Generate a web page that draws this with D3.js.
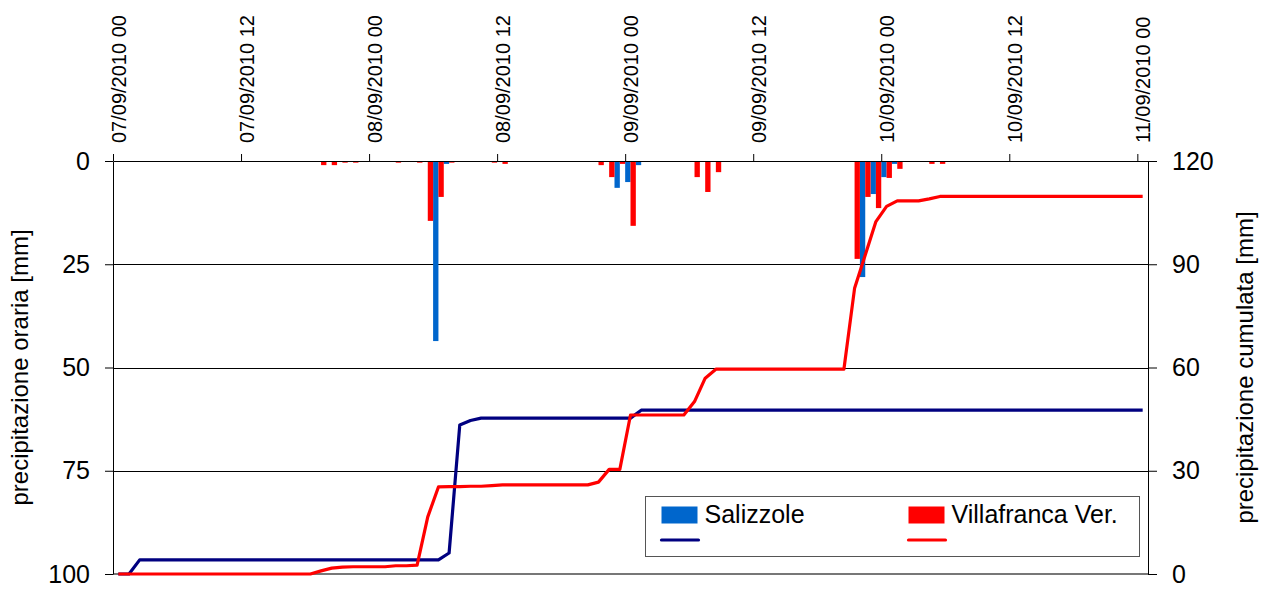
<!DOCTYPE html>
<html>
<head>
<meta charset="utf-8">
<script src="https://cdn.jsdelivr.net/npm/d3@7"></script>
<style>
  body { margin: 0; background: #fff; }
  text { font-family: "Liberation Sans", Arial, sans-serif; fill: #000; }
  .axis path, .axis line { stroke: #000; }
</style>
</head>
<body>
<div id="d3"></div>
<script>
// hourly categories, 07/09/2010 00 -> 11/09/2010 00 (97 hours)
var hours = d3.range(97);
var tickLabels = ["07/09/2010 00", "07/09/2010 12", "08/09/2010 00", "08/09/2010 12",
                  "09/09/2010 00", "09/09/2010 12", "10/09/2010 00", "10/09/2010 12", "11/09/2010 00"];
var seriesNames = ["Salizzole", "Villafranca Ver."];

// hourly rain [mm]
var salizzoleHourly = [
  0,0,0,0,0,0,0,0,0,0,
  0,0,0,0,0,0,0,0,0,0,
  0,0,0,0,0,0,0,0,0,0,
  43.6,0.7,0,0,0,0,0,0,0,0,
  0,0,0,0,0,0,0,6.5,5.1,1.0,
  0,0,0,0,0,0,0,0,0,0,
  0,0,0,0,0,0,0,0,0,0,
  28.1,8.0,3.9,0.7,0,0,0,0,0,0,
  0,0,0,0,0,0,0,0,0,0,
  0,0,0,0,0,0,0
];
var villafrancaHourly = [
  0,0,0,0,0,0,0,0,0,0,
  0,0,0,0,0,0,0,0,0,1.0,
  1.0,0.4,0.4,0,0,0,0.4,0,0.4,14.5,
  8.7,0.4,0,0,0,0.4,0.7,0,0,0,
  0,0,0,0,0,1.0,3.9,0.7,15.7,0,
  0,0,0,0,3.9,7.5,2.7,0,0,0,
  0,0,0,0,0,0,0,0,0,23.7,
  8.7,11.4,4.1,1.9,0,0,0.7,0.7,0,0,
  0,0,0,0,0,0,0,0,0,0,
  0,0,0,0,0,0,0
];

// cumulated rain [mm]
var salizzoleCum = [
  0,0,4.1,4.1,4.1,4.1,4.1,4.1,4.1,4.1,
  4.1,4.1,4.1,4.1,4.1,4.1,4.1,4.1,4.1,4.1,
  4.1,4.1,4.1,4.1,4.1,4.1,4.1,4.1,4.1,4.1,
  4.1,6.1,43.3,44.6,45.3,45.3,45.3,45.3,45.3,45.3,
  45.3,45.3,45.3,45.3,45.3,45.3,45.3,45.3,45.3,47.6,
  47.6,47.6,47.6,47.6,47.6,47.6,47.6,47.6,47.6,47.6,
  47.6,47.6,47.6,47.6,47.6,47.6,47.6,47.6,47.6,47.6,
  47.6,47.6,47.6,47.6,47.6,47.6,47.6,47.6,47.6,47.6,
  47.6,47.6,47.6,47.6,47.6,47.6,47.6,47.6,47.6,47.6,
  47.6,47.6,47.6,47.6,47.6,47.6,47.6
];
var villafrancaCum = [
  0,0,0,0,0,0,0,0,0,0,
  0,0,0,0,0,0,0,0,0,0.9,
  1.7,2.0,2.1,2.1,2.1,2.1,2.4,2.4,2.6,16.6,
  25.3,25.4,25.4,25.5,25.5,25.7,25.9,25.9,25.9,25.9,
  25.9,25.9,25.9,25.9,25.9,26.7,30.4,30.4,46.2,46.2,
  46.2,46.2,46.2,46.2,50.1,56.9,59.5,59.5,59.5,59.5,
  59.5,59.5,59.5,59.5,59.5,59.5,59.5,59.5,59.5,83.0,
  92.7,102.4,106.8,108.4,108.4,108.4,109.0,109.7,109.7,109.7,
  109.7,109.7,109.7,109.7,109.7,109.7,109.7,109.7,109.7,109.7,
  109.7,109.7,109.7,109.7,109.7,109.7,109.7
];

var barColors = ["#0066cc", "#ff0000"];
var lineColors = ["#000080", "#ff0000"];

// setup canvas
var svg_width = 1267;
var svg_height = 590;
var svg = d3.select("#d3").append("svg")
  .attr("width", svg_width)
  .attr("height", svg_height);
var margin = {top: 161, right: 119, bottom: 16, left: 113};
var chart_width = svg_width - margin.left - margin.right;
var chart_height = svg_height - margin.top - margin.bottom;

var chart_area = svg.append("g")
    .attr("transform", "translate(" + margin.left + "," + margin.top + ")");

// scales
var x = d3.scaleBand()
  .domain(hours)
  .range([0, chart_width]);
var xSub = d3.scaleBand()
  .domain([0, 1])
  .range([0, x.bandwidth()]);
var xHour = d3.scaleLinear()
  .domain([0, hours.length])
  .range([0, chart_width]);
var yLeft = d3.scaleLinear()
  .domain([0, 100])
  .range([0, chart_height]);
var yRight = d3.scaleLinear()
  .domain([0, 120])
  .range([chart_height, 0]);

// gridlines
chart_area.append("g").selectAll("line")
    .data([25, 50, 75])
    .enter().append("line")
    .attr("x1", 0)
    .attr("x2", chart_width)
    .attr("y1", function(d) { return Math.round(yLeft(d)) + 0.5; })
    .attr("y2", function(d) { return Math.round(yLeft(d)) + 0.5; })
    .attr("stroke", "#000");
chart_area.append("line")
    .attr("x1", 0)
    .attr("x2", chart_width)
    .attr("y1", yLeft(100))
    .attr("y2", yLeft(100))
    .attr("stroke", "#777")
    .attr("stroke-width", 2);

// bars (only hours with rain)
var barData = [salizzoleHourly, villafrancaHourly];
barData.forEach(function(values, s) {
  var rainy = values
    .map(function(v, i) { return {hour: hours[i], value: v}; })
    .filter(function(d) { return d.value > 0; });
  chart_area.append("g").selectAll("rect")
      .data(rainy)
      .enter().append("rect")
      .attr("x", function(d) { return x(d.hour) + xSub(s); })
      .attr("y", yLeft(0))
      .attr("width", xSub.bandwidth())
      .attr("height", function(d) { return yLeft(d.value) - yLeft(0); })
      .attr("fill", barColors[s]);
});

// cumulated lines
var line = d3.line()
  .x(function(d, i) { return x(hours[i]) + x.bandwidth() / 2; })
  .y(function(d) { return yRight(d); });
[salizzoleCum, villafrancaCum].forEach(function(values, s) {
  chart_area.append("path")
      .datum(values)
      .attr("fill", "none")
      .attr("stroke", lineColors[s])
      .attr("stroke-width", 3.2)
      .attr("stroke-linejoin", "round")
      .attr("d", line);
});

// top x-axis
var xAxis = chart_area.append("g")
    .attr("class", "axis axis--x")
    .call(d3.axisTop(xHour)
      .tickValues(d3.range(0, 97, 12))
      .tickSize(7)
      .tickSizeOuter(0)
      .tickFormat(function(d) { return tickLabels[d / 12]; }));
xAxis.selectAll("text")
    .attr("font-size", "20px")
    .attr("text-anchor", "start")
    .attr("x", 0)
    .attr("y", 0)
    .attr("dy", "0.35em")
    .attr("transform", "translate(" + (x.bandwidth() / 2) + ",-18) rotate(-90)");

// left y-axis
var yAxisL = chart_area.append("g")
    .attr("class", "axis axis--y")
    .call(d3.axisLeft(yLeft)
      .tickValues([0, 25, 50, 75, 100])
      .tickSize(8)
      .tickSizeOuter(0)
      .tickPadding(15));
yAxisL.selectAll("text").attr("font-size", "25px");

// right y-axis
var yAxisR = chart_area.append("g")
    .attr("class", "axis axis--y2")
    .attr("transform", "translate(" + chart_width + ",0)")
    .call(d3.axisRight(yRight)
      .tickValues([0, 30, 60, 90, 120])
      .tickSize(9)
      .tickSizeOuter(0)
      .tickPadding(15));
yAxisR.selectAll("text").attr("font-size", "25px");

// axis titles
svg.append("text")
    .attr("transform", "translate(28," + (margin.top + chart_height / 2) + ") rotate(-90)")
    .attr("text-anchor", "middle")
    .attr("font-size", "24px")
    .text("precipitazione oraria [mm]");
svg.append("text")
    .attr("transform", "translate(1253," + (margin.top + chart_height / 2) + ") rotate(-90)")
    .attr("text-anchor", "middle")
    .attr("font-size", "24px")
    .text("precipitazione cumulata [mm]");

// legend
var legend = svg.append("g")
    .attr("transform", "translate(645.5,496.5)");
legend.append("rect")
    .attr("width", 494)
    .attr("height", 60)
    .attr("fill", "#fff")
    .attr("stroke", "#555");
seriesNames.forEach(function(name, s) {
  var lx = 16 + s * 247;
  legend.append("rect")
      .attr("x", lx)
      .attr("y", 10)
      .attr("width", 36)
      .attr("height", 17)
      .attr("fill", barColors[s]);
  legend.append("text")
      .attr("x", lx + 43)
      .attr("y", 26)
      .attr("font-size", "25px")
      .text(name);
  legend.append("line")
      .attr("x1", lx)
      .attr("x2", lx + 37)
      .attr("y1", 43.5)
      .attr("y2", 43.5)
      .attr("stroke", lineColors[s])
      .attr("stroke-width", 3.2)
      .attr("stroke-linecap", "round");
});
</script>
</body>
</html>
